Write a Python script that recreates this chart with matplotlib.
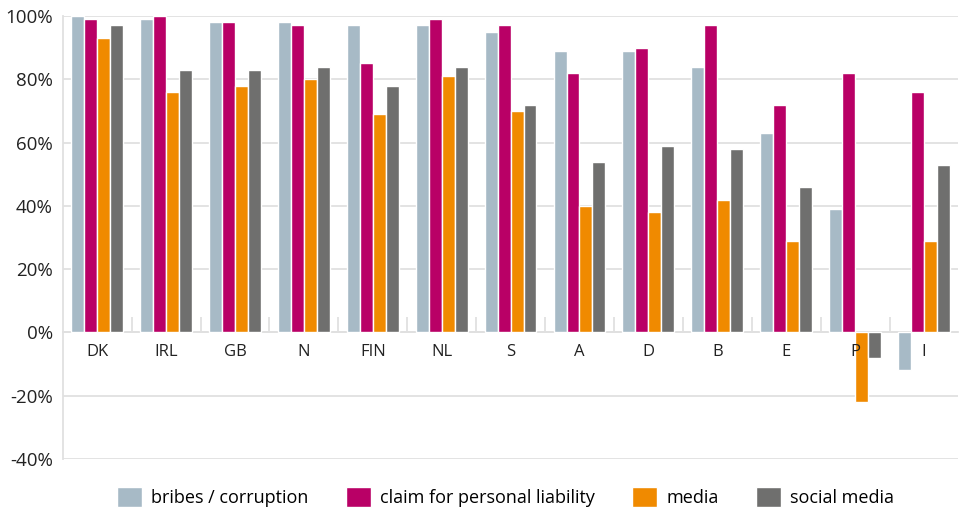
import numpy as np
import matplotlib.pyplot as plt
from matplotlib.ticker import FixedLocator

plt.rcParams['font.family'] = ['Open Sans', 'DejaVu Sans']

countries = ["DK", "IRL", "GB", "N", "FIN", "NL", "S", "A", "D", "B", "E", "P", "I"]
bribes = [100, 99, 98, 98, 97, 97, 95, 89, 89, 84, 63, 39, -12]
claim = [99, 100, 98, 97, 85, 99, 97, 82, 90, 97, 72, 82, 76]
media = [93, 76, 78, 80, 69, 81, 70, 40, 38, 42, 29, -22, 29]
social = [97, 83, 83, 84, 78, 84, 72, 54, 59, 58, 46, -8, 53]

series = [("bribes / corruption", bribes, "#a7bac6"),
          ("claim for personal liability", claim, "#b90066"),
          ("media", media, "#f08a00"),
          ("social media", social, "#6f6f6e")]

fig = plt.figure(figsize=(9.59, 5.08), dpi=100)
ax = fig.add_axes([0.0654, 0.0965, 0.934, 0.872])

x = np.arange(len(countries))
step = 0.188
for i, (name, vals, col) in enumerate(series):
    ax.bar(x + (i - 1.5) * step, vals, width=step, color=col,
           edgecolor="white", linewidth=1, label=name, zorder=3)

ax.set_xlim(-0.5, len(countries) - 0.5)
ax.set_ylim(-40, 100)
ax.set_yticks(range(-40, 101, 20))
ax.set_yticklabels([f"{v}%" for v in range(-40, 101, 20)])
ax.yaxis.grid(True, color="#e0e0e0", linewidth=1.3, zorder=0)
ax.tick_params(axis="y", length=0, pad=7, labelsize=13.5, labelcolor="#222222")

# category separators on the zero line
ax.spines["bottom"].set_position(("data", 0))
ax.xaxis.set_major_locator(FixedLocator(np.arange(0.5, len(countries) - 0.5, 1)))
ax.xaxis.set_major_formatter(plt.NullFormatter())
ax.tick_params(axis="x", which="major", direction="in", length=11, color="#e0e0e0", width=1.3)

# country labels drawn as text so they sit on top of the negative bars
for xi, c in zip(x, countries):
    ax.text(xi, -3.6, c, ha="center", va="top", fontsize=12, color="#222222", zorder=5)

for s in ["top", "right"]:
    ax.spines[s].set_visible(False)
ax.spines["left"].set_color("#e0e0e0")
ax.spines["left"].set_linewidth(1.3)
ax.spines["bottom"].set_color("#e0e0e0")
ax.spines["bottom"].set_linewidth(1.3)
ax.spines["bottom"].set_zorder(2)

fig.legend(loc="lower center", ncol=4, frameon=False, fontsize=13,
           bbox_to_anchor=(0.527, -0.03), handlelength=1.4, handleheight=1.3,
           handletextpad=0.5, columnspacing=2.05)

fig.savefig("out.png", dpi=100)
